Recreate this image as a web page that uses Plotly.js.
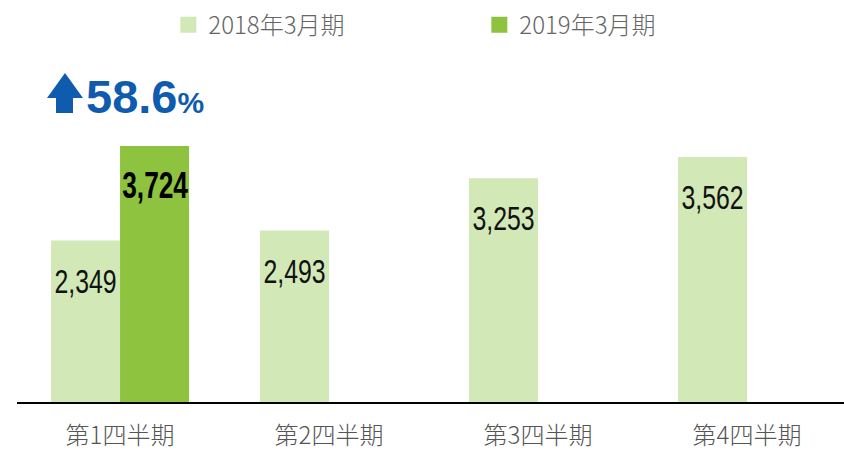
<!DOCTYPE html>
<html>
<head>
<meta charset="utf-8">
<script src="https://cdn.plot.ly/plotly-3.0.1.min.js"></script>
<style>
html,body{margin:0;padding:0;background:#fff;}
#chart{width:844px;height:450px;}
#chart g.annotation:not([data-index="0"]) text.annotation-text{transform-box:fill-box;transform-origin:50% 50%;transform:scaleX(0.73);}
</style>
</head>
<body>
<div id="chart"></div>
<script>
const categories = ['第1四半期', '第2四半期', '第3四半期', '第4四半期'];
const seriesNames = ['2018年3月期', '2019年3月期'];
const fy2018 = [2349, 2493, 3253, 3562];
const fy2019 = [3724, null, null, null];
const growthLabel = '58.6';

const lightGreen = '#d2e8b6';
const darkGreen = '#8dc33f';
const numFont = 'Liberation Sans, Arial, sans-serif';
const cjkFont = 'Noto Sans CJK JP, Noto Sans, sans-serif';

const fmt = v => v.toLocaleString('en-US');

const traces = [
  {type: 'bar', x: categories, y: fy2018, name: seriesNames[0], marker: {color: lightGreen}, showlegend: false, hoverinfo: 'none'},
  {type: 'bar', x: categories, y: fy2019, name: seriesNames[1], marker: {color: darkGreen}, showlegend: false, hoverinfo: 'none'},
  {type: 'scatter', mode: 'markers', x: [null], y: [null], name: seriesNames[0], marker: {symbol: 'square', size: 16, color: lightGreen}},
  {type: 'scatter', mode: 'markers', x: [null], y: [null], name: seriesNames[1], marker: {symbol: 'square', size: 16, color: darkGreen}}
];

const annotations = [];
annotations.push({
  xref: 'paper', yref: 'paper', x: 0.081, y: 0.8947, xanchor: 'left', yanchor: 'middle', showarrow: false,
  text: '<b>' + growthLabel + '<span style="font-size:30px">%</span></b>',
  font: {family: 'Liberation Sans, Arial, sans-serif', size: 47, color: '#0f5cae'}
});
const barHalf = 34.5;
categories.forEach((c, i) => {
  if (fy2018[i] != null) annotations.push({x: c, y: fy2018[i], xref: 'x', yref: 'y', xshift: -barHalf, yshift: -40, yanchor: 'middle', xanchor: 'center', showarrow: false, text: fmt(fy2018[i]), font: {family: numFont, size: 34, color: '#111'}});
  if (fy2019[i] != null) annotations.push({x: c, y: fy2019[i], xref: 'x', yref: 'y', xshift: barHalf, yshift: -40, yanchor: 'middle', xanchor: 'center', showarrow: false, text: '<b>' + fmt(fy2019[i]) + '</b>', font: {family: numFont, size: 36, color: '#000'}});
});

const layout = {
  width: 844, height: 450,
  margin: {l: 17, r: 0, t: 60, b: 48, pad: 0, autoexpand: false},
  paper_bgcolor: '#fff', plot_bgcolor: '#fff',
  barmode: 'group', bargap: 0.34, bargroupgap: 0,
  xaxis: {type: 'category', range: [-0.493, 3.464], showline: true, linecolor: '#000', linewidth: 2, ticks: '', showgrid: false, zeroline: false,
          tickfont: {family: cjkFont, size: 24, color: '#555', weight: 300}, ticklabelstandoff: 11, fixedrange: true},
  yaxis: {range: [0, 4974.5], visible: false, showgrid: false, zeroline: false, fixedrange: true},
  showlegend: true,
  legend: {orientation: 'h', x: 0.183, y: 1.102, xanchor: 'left', yanchor: 'middle', entrywidth: 266, entrywidthmode: 'pixels',
           font: {family: cjkFont, size: 24, color: '#666', weight: 300}, bgcolor: 'rgba(0,0,0,0)', itemclick: false, itemdoubleclick: false},
  annotations: annotations,
  shapes: [{type: 'path', xref: 'paper', yref: 'paper', fillcolor: '#0f5cae', line: {width: 0},
    path: 'M 0.05804,0.96199 L 0.07981,0.88889 L 0.06771,0.88889 L 0.06771,0.84503 L 0.04716,0.84503 L 0.04716,0.88889 L 0.03628,0.88889 Z'}]
};

Plotly.newPlot('chart', traces, layout, {displayModeBar: false, staticPlot: true});
</script>
</body>
</html>
